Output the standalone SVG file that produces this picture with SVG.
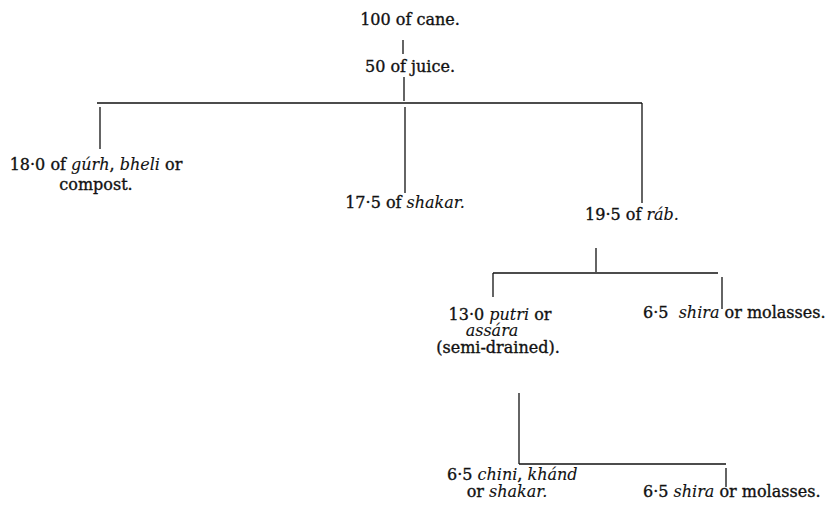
<svg xmlns="http://www.w3.org/2000/svg" width="828" height="510" viewBox="0 0 828 510">
<style>
text{font-family:"DejaVu Serif","Liberation Serif",serif;font-size:16px;fill:#111;stroke:#111;stroke-width:0.35}
.i{font-style:italic;stroke-width:0.1}
.c{text-anchor:middle}
#connectors line{stroke:#111;stroke-width:1.3;fill:none}
</style>
<rect width="828" height="510" fill="#fff"/>
<g id="connectors">
<line x1="403" y1="40" x2="403" y2="54"/>
<line x1="404" y1="77" x2="404" y2="101"/>
<line x1="97" y1="103" x2="642" y2="103"/>
<line x1="100" y1="107" x2="100" y2="149"/>
<line x1="405" y1="107" x2="405" y2="193"/>
<line x1="642" y1="103" x2="642" y2="203"/>
<line x1="596" y1="248" x2="596" y2="272"/>
<line x1="493" y1="273" x2="718" y2="273"/>
<line x1="493" y1="273" x2="493" y2="297"/>
<line x1="722" y1="277" x2="722" y2="309"/>
<line x1="519" y1="393" x2="519" y2="464"/>
<line x1="519" y1="464" x2="726" y2="464"/>
<line x1="726" y1="468" x2="726" y2="487"/>
</g>
<g id="cane"><text class="c" x="410" y="25">100 of cane.</text></g>
<g id="juice"><text class="c" x="410" y="72">50 of juice.</text></g>
<g id="gurh"><text class="c" x="96" y="170">18·0 of <tspan class="i">gúrh</tspan>, <tspan class="i">bheli</tspan> or</text><text class="c" x="96" y="190">compost.</text></g>
<g id="shakar1"><text class="c" x="405" y="208">17·5 of <tspan class="i">shakar.</tspan></text></g>
<g id="rab"><text class="c" x="632" y="220">19·5 of <tspan class="i">ráb.</tspan></text></g>
<g id="putri"><text class="c" x="500" y="320">13·0 <tspan class="i">putri</tspan> or</text><text class="c i" x="492" y="336">assára</text><text class="c" x="498" y="353">(semi-drained).</text></g>
<g id="shira1"><text x="643" y="318" xml:space="preserve">6·5  <tspan class="i">shira</tspan> or molasses.</text></g>
<g id="chini"><text x="447" y="480">6·5 <tspan class="i">chini</tspan>, <tspan class="i">khánd</tspan></text><text class="c" x="507" y="497">or <tspan class="i">shakar.</tspan></text></g>
<g id="shira2"><text x="643" y="497">6·5 <tspan class="i">shira</tspan> or molasses.</text></g>
</svg>
